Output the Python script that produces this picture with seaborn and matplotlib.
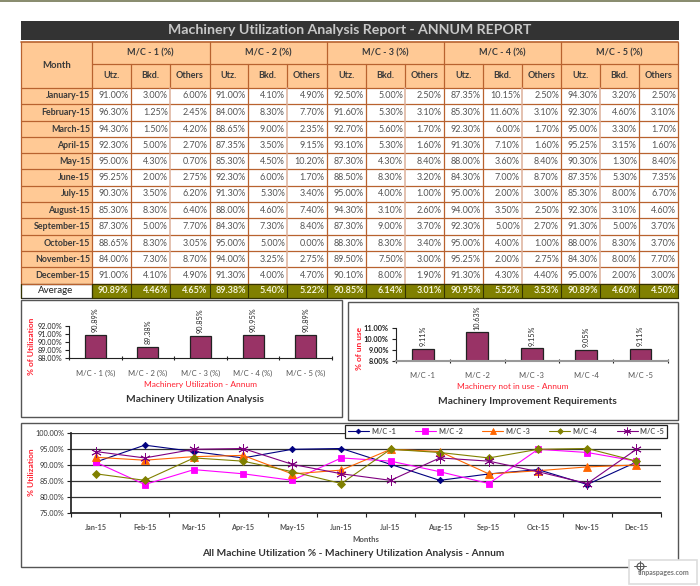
import numpy as np
import pandas as pd
import matplotlib
matplotlib.use("Agg")
import matplotlib.pyplot as plt
from matplotlib.patches import Rectangle
from matplotlib.ticker import FormatStrFormatter
import seaborn as sns

#Table values
months = ["January-15", "February-15", "March-15", "April-15", "May-15", "June-15",
          "July-15", "August-15", "September-15", "October-15", "November-15", "December-15"]
short_months = ["Jan-15", "Feb-15", "Mar-15", "Apr-15", "May-15", "Jun-15",
                "Jul-15", "Aug-15", "Sep-15", "Oct-15", "Nov-15", "Dec-15"]

mc1_utz = [91.00, 96.30, 94.30, 92.30, 95.00, 95.25, 90.30, 85.30, 87.30, 88.65, 84.00, 91.00]
mc1_bkd = [3.00, 1.25, 1.50, 5.00, 4.30, 2.00, 3.50, 8.30, 5.00, 8.30, 7.30, 4.10]
mc1_oth = [6.00, 2.45, 4.20, 2.70, 0.70, 2.75, 6.20, 6.40, 7.70, 3.05, 8.70, 4.90]
mc2_utz = [91.00, 84.00, 88.65, 87.35, 85.30, 92.30, 91.30, 88.00, 84.30, 95.00, 94.00, 91.30]
mc2_bkd = [4.10, 8.30, 9.00, 3.50, 4.50, 6.00, 5.30, 4.60, 7.30, 5.00, 3.25, 4.00]
mc2_oth = [4.90, 7.70, 2.35, 9.15, 10.20, 1.70, 3.40, 7.40, 8.40, 0.00, 2.75, 4.70]
mc3_utz = [92.50, 91.60, 92.70, 93.10, 87.30, 88.50, 95.00, 94.30, 87.30, 88.30, 89.50, 90.10]
mc3_bkd = [5.00, 5.30, 5.60, 5.30, 4.30, 8.30, 4.00, 3.10, 9.00, 8.30, 7.50, 8.00]
mc3_oth = [2.50, 3.10, 1.70, 1.60, 8.40, 3.20, 1.00, 2.60, 3.70, 3.40, 3.00, 1.90]
mc4_utz = [87.35, 85.30, 92.30, 91.30, 88.00, 84.30, 95.00, 94.00, 92.30, 95.00, 95.25, 91.30]
mc4_bkd = [10.15, 11.60, 6.00, 7.10, 3.60, 7.00, 2.00, 3.50, 5.00, 4.00, 2.00, 4.30]
mc4_oth = [2.50, 3.10, 1.70, 1.60, 8.40, 8.70, 3.00, 2.50, 2.70, 1.00, 2.75, 4.40]
mc5_utz = [94.30, 92.30, 95.00, 95.25, 90.30, 87.35, 85.30, 92.30, 91.30, 88.00, 84.30, 95.00]
mc5_bkd = [3.20, 4.60, 3.30, 3.15, 1.30, 5.30, 8.00, 3.10, 5.00, 8.30, 8.00, 2.00]
mc5_oth = [2.50, 3.10, 1.70, 1.60, 8.40, 7.35, 6.70, 4.60, 3.70, 3.70, 7.70, 3.00]
averages = [90.89, 4.46, 4.65, 89.38, 5.40, 5.22, 90.85, 6.14, 3.01,
            90.95, 5.52, 3.53, 90.89, 4.60, 4.50]

mc_headers = ["M/C - 1 (%)", "M/C - 2 (%)", "M/C - 3 (%)", "M/C - 4 (%)", "M/C - 5 (%)"]
sub_headers = ["Utz.", "Bkd.", "Others"]

#Bar chart values
util_labels = ["M/C - 1 (%)", "M/C - 2 (%)", "M/C - 3 (%)", "M/C - 4 (%)", "M/C - 5 (%)"]
util_values = [90.89, 89.38, 90.85, 90.95, 90.89]
unuse_labels = ["M/C -1", "M/C -2", "M/C -3", "M/C -4", "M/C -5"]
unuse_values = [9.11, 10.63, 9.15, 9.05, 9.11]

sns.set_theme(style="white")
plt.rcParams["font.family"] = ["Lato", "DejaVu Sans"]

fig = plt.figure(figsize=(7, 5.86), dpi=100)
W, H = 700, 586


def px_axes(x0, y_top, x1, y_bot):
    #axes from pixel box (y counted from the top)
    return fig.add_axes([x0 / W, 1 - y_bot / H, (x1 - x0) / W, (y_bot - y_top) / H])


#background layer in pixel coordinates
bg = fig.add_axes([0, 0, 1, 1], zorder=0)
bg.set_xlim(0, W)
bg.set_ylim(H, 0)
bg.axis("off")

border = "#B8622F"
pale = "#DDB09A"
head = "#FFC995"
dark_text = "#3A3A3A"
body_text = "#555555"
olive = "#808000"
red = "#FF2030"

#strip at the very top
bg.add_patch(Rectangle((0, 0), W, 1.5, color="#8A8D70", lw=0))

#title bar
bg.add_patch(Rectangle((21, 20.5), 658, 19.5, color="#333333", lw=0))
bg.text(350, 30, "Machinery Utilization Analysis Report - ANNUM REPORT", color="#C8C8C8",
        fontsize=10.2, fontweight="bold", ha="center", va="center")

col_x = [21, 92, 130.5, 169.7, 209.5, 248, 287, 326.5, 365.7, 405, 443.7, 482.7, 522, 561, 600, 639, 678]
row_y = [88, 104, 121, 137, 153.3, 169.3, 185.7, 202.3, 218.3, 235.3, 251.3, 267.3, 283.7]
avg_bottom = 297.7

#header fills
bg.add_patch(Rectangle((21, 42), 657, 46, color=head, lw=0))
bg.add_patch(Rectangle((21, 88), 71, row_y[-1] - 88, color=head, lw=0))
bg.add_patch(Rectangle((92, row_y[-1]), 586, avg_bottom - row_y[-1], color=olive, lw=0))

table = [mc1_utz, mc1_bkd, mc1_oth, mc2_utz, mc2_bkd, mc2_oth, mc3_utz, mc3_bkd, mc3_oth,
         mc4_utz, mc4_bkd, mc4_oth, mc5_utz, mc5_bkd, mc5_oth]

#body text
for r in range(12):
    yc = (row_y[r] + row_y[r + 1]) / 2
    bg.text(90, yc, months[r], ha="right", va="center", fontsize=6.4, fontweight="bold", color=dark_text)
    for c in range(15):
        bg.text(col_x[c + 2] - 2, yc, "%.2f%%" % table[c][r], ha="right", va="center",
                fontsize=6.5, color=body_text)

#average row
yc = (row_y[-1] + avg_bottom) / 2
bg.text(56, yc, "Average", ha="center", va="center", fontsize=7, color="#222222")
for c in range(15):
    bg.text(col_x[c + 2] - 2, yc, "%.2f%%" % averages[c], ha="right", va="center",
            fontsize=6.5, fontweight="bold", color="#F4F4D8")

#headers
bg.text(56.5, 65, "Month", ha="center", va="center", fontsize=6.8, fontweight="bold", color=dark_text)
for m in range(5):
    x0 = col_x[1 + m * 3]
    x1 = col_x[4 + m * 3]
    bg.text((x0 + x1) / 2, 53, mc_headers[m], ha="center", va="center", fontsize=6.5,
            fontweight="bold", color=dark_text)
    for s in range(3):
        xa = col_x[1 + m * 3 + s]
        xb = col_x[2 + m * 3 + s]
        bg.text((xa + xb) / 2, 76, sub_headers[s], ha="center", va="center", fontsize=6.5,
                fontweight="bold", color=dark_text)

#grid lines
for y in row_y:
    bg.plot([21, 678], [y, y], color=border, lw=0.9)
bg.plot([21, 678], [42, 42], color=border, lw=1.2)
bg.plot([92, 678], [64, 64], color=border, lw=0.9)
for i, x in enumerate(col_x):
    light = i in [3, 6, 9, 12, 14]
    bg.plot([x, x], [42 if i in [0, 1, 4, 7, 10, 13, 16] else 64, 88], color=border, lw=0.9)
    bg.plot([x, x], [88, row_y[-1]], color=pale if light else border, lw=1.1 if light else 0.9)
    bg.plot([x, x], [row_y[-1], avg_bottom], color="#333300", lw=0.8)
bg.add_patch(Rectangle((21, row_y[-1]), 71, avg_bottom - row_y[-1], fc="white", ec="#333333", lw=0.9))
bg.plot([92, 678], [avg_bottom, avg_bottom], color="#333300", lw=0.9)
bg.plot([92, 678], [row_y[-1], row_y[-1]], color="#333300", lw=0.9)

#chart frames
frame = "#555555"
bg.add_patch(Rectangle((21, 299.5), 321, 117.5, fc="white", ec=frame, lw=1))
bg.add_patch(Rectangle((348, 301.5), 330, 118.5, fc="white", ec=frame, lw=1))
bg.add_patch(Rectangle((21, 423), 657, 144, fc="white", ec=frame, lw=1))


def bar_panel(ax, labels, values, ticks, label_bold):
    df = pd.DataFrame({"machine": labels, "value": values})
    sns.barplot(data=df, x="machine", y="value", ax=ax, color="#993366", saturation=1,
                width=0.4, edgecolor="#222222", linewidth=0.9)
    ax.set_xlim(-0.5, len(labels) - 0.5)
    ax.set_ylim(ticks[0], ticks[-1])
    ax.set_yticks(ticks)
    ax.yaxis.set_major_formatter(FormatStrFormatter("%.2f%%"))
    ax.set_xticks(np.arange(len(labels) + 1) - 0.5)
    ax.set_xticklabels([])
    ax.set_xticks(np.arange(len(labels)), minor=True)
    ax.set_xticklabels(labels, minor=True, fontsize=5.5, color=body_text)
    ax.tick_params(axis="x", which="minor", length=0, pad=8)
    ax.tick_params(axis="x", which="major", length=3, width=0.8, direction="inout", color="#222222", bottom=True)
    ax.tick_params(axis="y", length=3, width=0.8, color="#222222", left=True, pad=2, labelsize=5.3,
                   labelcolor="#222222")
    if label_bold:
        for t in ax.get_yticklabels():
            t.set_fontweight("bold")
    ax.set_xlabel("")
    ax.set_ylabel("")
    ax.patch.set_alpha(0)
    sns.despine(ax=ax)
    for s in ["left", "bottom"]:
        ax.spines[s].set_color("#222222")
        ax.spines[s].set_linewidth(0.8)
    ax.bar_label(ax.containers[0], fmt="%.2f%%", rotation=90, fontsize=5.2, padding=2, color="#222222")


#left bar chart
ax1 = px_axes(69, 326.3, 332, 358.3)
bar_panel(ax1, util_labels, util_values, [88, 89, 90, 91, 92], False)
bg.text(32, 346, "% of Utilization", rotation=90, color=red, fontsize=6, fontweight="bold",
        ha="center", va="center")
bg.text(200, 385, "Machinery Utilization - Annum", color=red, fontsize=6, ha="center", va="center")
bg.text(195, 400, "Machinery Utilization Analysis", color="#333333", fontsize=7.3, fontweight="bold",
        ha="center", va="center")

#right bar chart
ax2 = px_axes(395.7, 328.3, 667.7, 361)
bar_panel(ax2, unuse_labels, unuse_values, [8, 9, 10, 11], True)
ax2.spines["bottom"].set_color("#999999")
ax2.spines["bottom"].set_linewidth(1.5)
bg.text(359, 348, "% of un use", rotation=90, color=red, fontsize=6, fontweight="bold",
        ha="center", va="center")
bg.text(513, 387, "Machinery not in use - Annum", color=red, fontsize=6, ha="center", va="center")
bg.text(527, 402, "Machinery Improvement Requirements", color="#333333", fontsize=7.3, fontweight="bold",
        ha="center", va="center")

#line chart
ax3 = px_axes(71, 433.3, 661, 513.3)
line_styles = [
    ("M/C -1", mc1_utz, "#000080", "D", 3.2),
    ("M/C -2", mc2_utz, "#FF00FF", "s", 5),
    ("M/C -3", mc3_utz, "#FF6600", "^", 5.5),
    ("M/C -4", mc4_utz, "#808000", "D", 3.8),
    ("M/C -5", mc5_utz, "#800080", (6, 2, 0), 7.5),
]
for name, vals, col, mk, ms in line_styles:
    df = pd.DataFrame({"month": short_months, "utz": vals})
    sns.lineplot(data=df, x="month", y="utz", ax=ax3, color=col, marker=mk, markersize=ms, label=name,
                 linewidth=0.8, sort=False, errorbar=None, markeredgecolor=col, markeredgewidth=0.6)
ax3.set_xlim(-0.5, 11.5)
ax3.set_ylim(75, 100)
ax3.set_yticks([75, 80, 85, 90, 95, 100])
ax3.yaxis.set_major_formatter(FormatStrFormatter("%.2f%%"))
ax3.grid(axis="y", color="#333333", lw=0.9)
ax3.set_axisbelow(True)
ax3.set_xticks(np.arange(13) - 0.5)
ax3.set_xticklabels([])
ax3.set_xticks(np.arange(12), minor=True)
ax3.set_xticklabels(short_months, minor=True, fontsize=5.2, fontweight="bold", color=body_text)
ax3.tick_params(axis="x", which="minor", length=0, pad=8)
ax3.tick_params(axis="x", which="major", length=3, width=0.8, color="#222222", bottom=True)
ax3.tick_params(axis="y", length=3, width=0.8, color="#222222", left=True, pad=2, labelsize=5.3,
                labelcolor="#333333")
ax3.set_xlabel("")
ax3.set_ylabel("")
ax3.patch.set_alpha(0)
sns.despine(ax=ax3)
ax3.spines["left"].set_color("#222222")
ax3.spines["bottom"].set_color("#222222")
leg = ax3.legend(ncol=5, loc="center", bbox_to_anchor=(506 / W, 1 - 431.5 / H), bbox_transform=fig.transFigure,
                 fontsize=5.2, frameon=True, fancybox=False, edgecolor="#222222", framealpha=1,
                 borderpad=0.35, handlelength=2.9, columnspacing=2.7, handletextpad=0.4, labelspacing=0,
                 borderaxespad=0)
leg.get_frame().set_linewidth(0.9)
for t in leg.get_texts():
    t.set_color(body_text)
    t.set_fontweight("bold")
for h in leg.legend_handles:
    h.set_markersize(h.get_markersize() * 0.75)

bg.text(32, 472, "% Utilization", rotation=90, color=red, fontsize=6, fontweight="bold",
        ha="center", va="center")
bg.text(366, 539, "Months", color=body_text, fontsize=5.6, fontweight="bold", ha="center", va="center")
bg.text(353, 554, "All Machine Utilization % - Machinery Utilization Analysis - Annum", color="#333333",
        fontsize=7.3, fontweight="bold", ha="center", va="center")

#watermark
wm = fig.add_axes([0, 0, 1, 1], zorder=5)
wm.set_xlim(0, W)
wm.set_ylim(H, 0)
wm.axis("off")
wm.add_patch(Rectangle((628.5, 560), 68, 24, fc="white", ec="#DDDDDD", lw=1.2))
wm.plot([640], [566], marker="o", ms=5, mfc="none", mec="#555555", mew=0.8)
wm.plot([634, 646], [566, 566], color="#555555", lw=0.7)
wm.plot([640, 640], [561, 572], color="#555555", lw=0.7)
wm.text(664, 572, "tinpaspages.com", color="#777777", fontsize=5, fontweight="bold", ha="center", va="center")

fig.savefig("out.png", dpi=100)
